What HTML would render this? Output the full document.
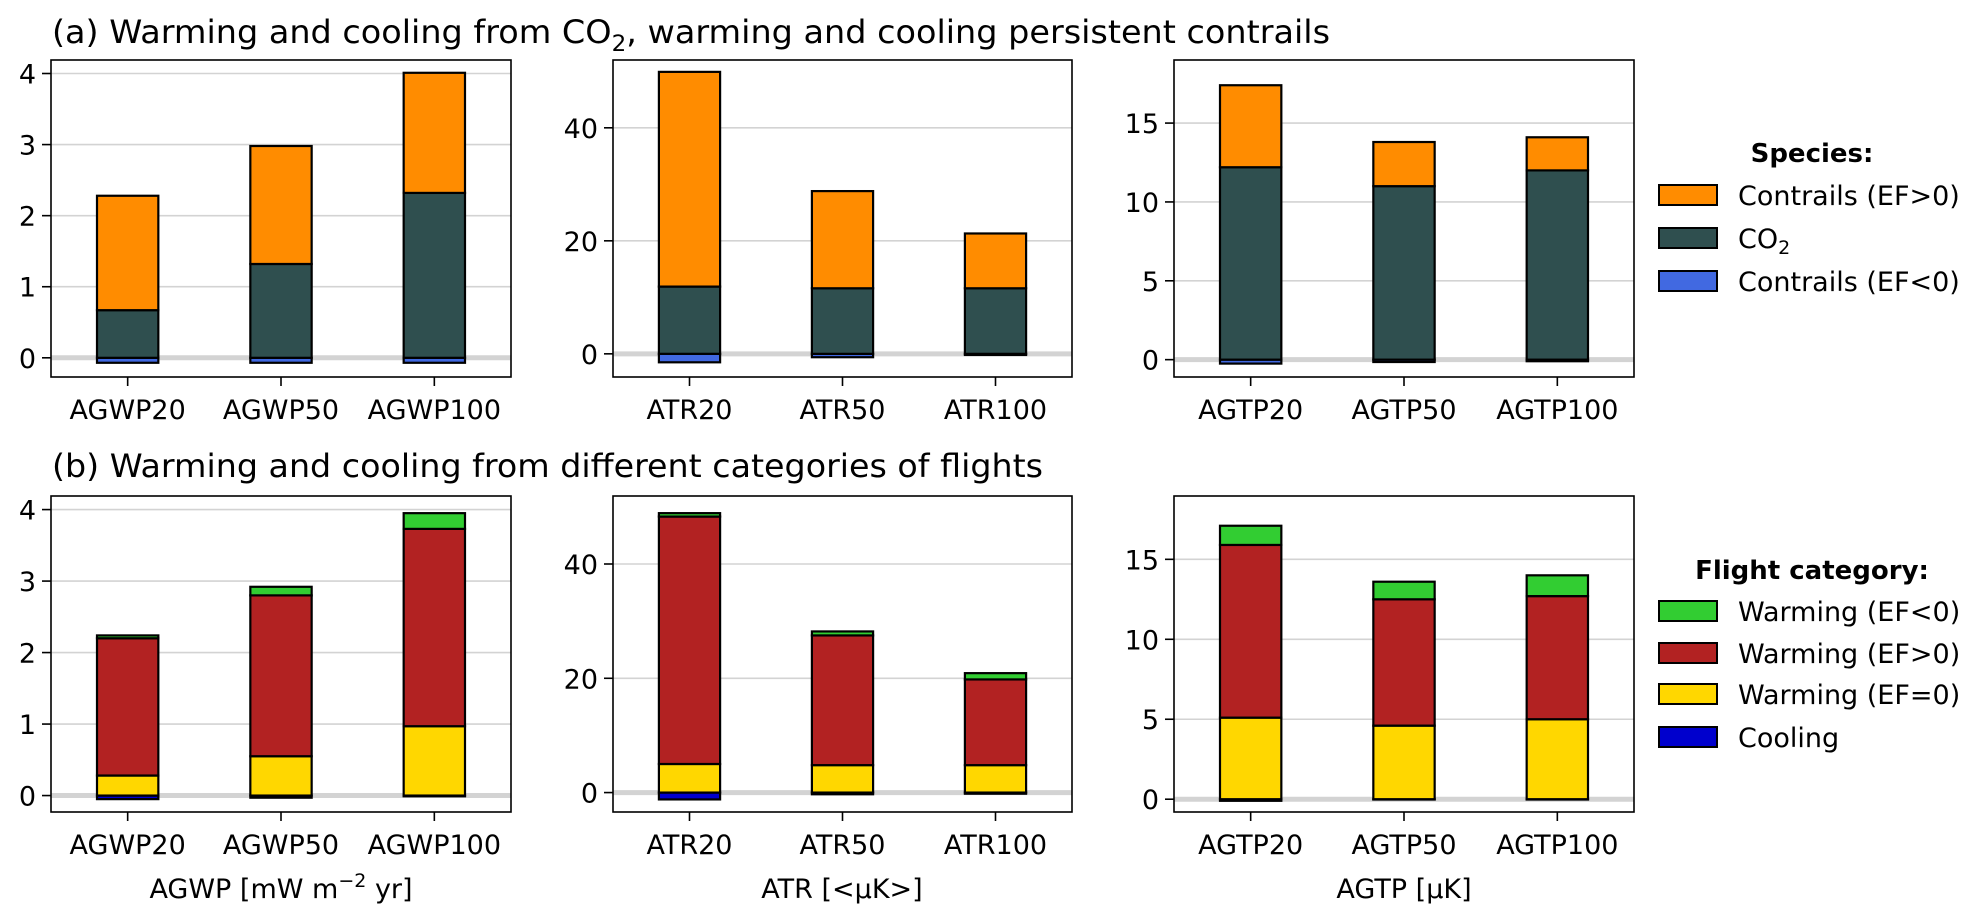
<!DOCTYPE html>
<html><head><meta charset="utf-8">
<style>
html,body{margin:0;padding:0;background:#fff;}
svg{display:block;font-family:"DejaVu Sans","Liberation Sans",sans-serif;}
</style></head>
<body>
<svg id="fig" width="1981" height="922" viewBox="0 0 1981 922" xmlns="http://www.w3.org/2000/svg">
<text x="52" y="43" font-size="32" textLength="1278" lengthAdjust="spacingAndGlyphs">(a) Warming and cooling from CO<tspan font-size="22" dy="8">2</tspan><tspan dy="-8">, warming and cooling persistent contrails</tspan></text>
<text x="52" y="477" font-size="32" textLength="991" lengthAdjust="spacingAndGlyphs">(b) Warming and cooling from different categories of flights</text>
<g id="legend-a">
<text x="1812" y="162" font-size="26" font-weight="bold" text-anchor="middle">Species:</text>
<rect x="1659" y="185" width="58" height="20" fill="#ff8c00" stroke="#000" stroke-width="2"/>
<text x="1738" y="205" font-size="27">Contrails (EF&gt;0)</text>
<rect x="1659" y="228" width="58" height="20" fill="#2f4f4f" stroke="#000" stroke-width="2"/>
<text x="1738" y="248" font-size="27">CO<tspan font-size="19" dy="6">2</tspan></text>
<rect x="1659" y="271" width="58" height="20" fill="#4169e1" stroke="#000" stroke-width="2"/>
<text x="1738" y="291" font-size="27">Contrails (EF&lt;0)</text>
</g>
<g id="legend-b">
<text x="1812" y="579" font-size="26" font-weight="bold" text-anchor="middle">Flight category:</text>
<rect x="1659" y="601" width="58" height="20" fill="#32cd32" stroke="#000" stroke-width="2"/>
<text x="1738" y="621" font-size="27">Warming (EF&lt;0)</text>
<rect x="1659" y="643" width="58" height="20" fill="#b22222" stroke="#000" stroke-width="2"/>
<text x="1738" y="663" font-size="27">Warming (EF&gt;0)</text>
<rect x="1659" y="684" width="58" height="20" fill="#ffd700" stroke="#000" stroke-width="2"/>
<text x="1738" y="704" font-size="27">Warming (EF=0)</text>
<rect x="1659" y="727" width="58" height="20" fill="#0000cd" stroke="#000" stroke-width="2"/>
<text x="1738" y="747" font-size="27">Cooling</text>
</g>
<text x="281" y="898" font-size="27" text-anchor="middle">AGWP [mW m<tspan font-size="19" dy="-11">−2</tspan><tspan dy="11"> yr]</tspan></text>
<text x="842" y="898" font-size="27" text-anchor="middle">ATR [&lt;μK&gt;]</text>
<text x="1404" y="898" font-size="27" text-anchor="middle">AGTP [μK]</text>
</svg>
<script>
// ---- data ----
const catsAGWP = ["AGWP20","AGWP50","AGWP100"];
const catsATR = ["ATR20","ATR50","ATR100"];
const catsAGTP = ["AGTP20","AGTP50","AGTP100"];
// (a) species
const aAGWPneg = [-0.07,-0.07,-0.07];
const aAGWPco2 = [0.67,1.32,2.32];
const aAGWPpos = [1.61,1.66,1.69];
const aATRneg = [-1.5,-0.6,-0.2];
const aATRco2 = [11.9,11.6,11.6];
const aATRpos = [38.0,17.2,9.7];
const aAGTPneg = [-0.25,-0.15,-0.1];
const aAGTPco2 = [12.2,11.0,12.0];
const aAGTPpos = [5.2,2.8,2.1];
// (b) flight categories
const bAGWPcool = [-0.05,-0.03,-0.01];
const bAGWPzero = [0.28,0.55,0.97];
const bAGWPpos = [1.92,2.25,2.76];
const bAGWPneg = [0.04,0.12,0.22];
const bATRcool = [-1.2,-0.3,-0.2];
const bATRzero = [5.0,4.8,4.8];
const bATRpos = [43.3,22.7,15.0];
const bATRneg = [0.6,0.7,1.1];
const bAGTPcool = [-0.1,-0.02,-0.02];
const bAGTPzero = [5.1,4.6,5.0];
const bAGTPpos = [10.8,7.9,7.7];
const bAGTPneg = [1.2,1.1,1.3];
const ticksAGWP = [0,1,2,3,4];
const ticksATR = [0,20,40];
const ticksAGTP = [0,5,10,15];

const NS="http://www.w3.org/2000/svg";
const svg=document.getElementById('fig');
function mk(tag,attrs,parent){const e=document.createElementNS(NS,tag);for(const k in attrs)e.setAttribute(k,attrs[k]);(parent||svg).appendChild(e);return e;}

function panel(name,box,ylim,ticks,cats,neg,stacks,colors,negColor){
  const g=mk('g',{});
  
  
  const [L,T,R,B]=box;
  const y=v=>B-(v-ylim[0])/(ylim[1]-ylim[0])*(B-T);
  const x=i=>L+(i+0.5)/cats.length*(R-L);
  const bw=(R-L)/cats.length*0.4;
  ticks.forEach(t=>{
    if(t!==0){const gl=mk('line',{x1:L,x2:R,y1:y(t),y2:y(t),stroke:'#d3d3d3','stroke-width':1.6},g);
    
    }
    const tk=mk('line',{x1:L-9,x2:L,y1:y(t),y2:y(t),stroke:'#000','stroke-width':1.6},g);
    
    
    const tl=mk('text',{x:L-15,y:y(t)+10,'font-size':27,'text-anchor':'end'},g);
    tl.textContent=t;
    
    
  });
  const zl=mk('line',{x1:L,x2:R,y1:y(0),y2:y(0),stroke:'#d3d3d3','stroke-width':5},g);
  
  
  cats.forEach((c,i)=>{
    const nb=mk('rect',{x:x(i)-bw/2,y:y(0),width:bw,height:Math.max(0,y(neg[i])-y(0)),fill:negColor,stroke:'#000','stroke-width':2.2},g);
    
    
    let base=0;
    stacks.forEach((s,k)=>{
      const top=base+s[i];
      const r=mk('rect',{x:x(i)-bw/2,y:y(top),width:bw,height:y(base)-y(top),fill:colors[k],stroke:'#000','stroke-width':2.2},g);
      
      
      base=top;
    });
    const tk=mk('line',{x1:x(i),x2:x(i),y1:B,y2:B+9,stroke:'#000','stroke-width':1.6},g);
    
    
    const tl=mk('text',{x:x(i),y:B+42,'font-size':27,'text-anchor':'middle'},g);
    tl.textContent=c;
    
    
  });
  const fr=mk('rect',{x:L,y:T,width:R-L,height:B-T,fill:'none',stroke:'#000','stroke-width':1.6},g);
  
  
}
const cA=['#2f4f4f','#ff8c00'], cB=['#ffd700','#b22222','#32cd32'];
panel('panel-a-agwp',[51,60,511,377],[-0.27,4.19],ticksAGWP,catsAGWP,aAGWPneg,[aAGWPco2,aAGWPpos],cA,'#4169e1');
panel('panel-a-atr',[613,60,1072,377],[-4.1,52],ticksATR,catsATR,aATRneg,[aATRco2,aATRpos],cA,'#4169e1');
panel('panel-a-agtp',[1174,60,1634,377],[-1.1,19],ticksAGTP,catsAGTP,aAGTPneg,[aAGTPco2,aAGTPpos],cA,'#4169e1');
panel('panel-b-agwp',[51,496,511,812],[-0.23,4.19],ticksAGWP,catsAGWP,bAGWPcool,[bAGWPzero,bAGWPpos,bAGWPneg],cB,'#0000cd');
panel('panel-b-atr',[613,496,1072,812],[-3.4,51.9],ticksATR,catsATR,bATRcool,[bATRzero,bATRpos,bATRneg],cB,'#0000cd');
panel('panel-b-agtp',[1174,496,1634,812],[-0.8,18.96],ticksAGTP,catsAGTP,bAGTPcool,[bAGTPzero,bAGTPpos,bAGTPneg],cB,'#0000cd');
</script>
</body></html>
